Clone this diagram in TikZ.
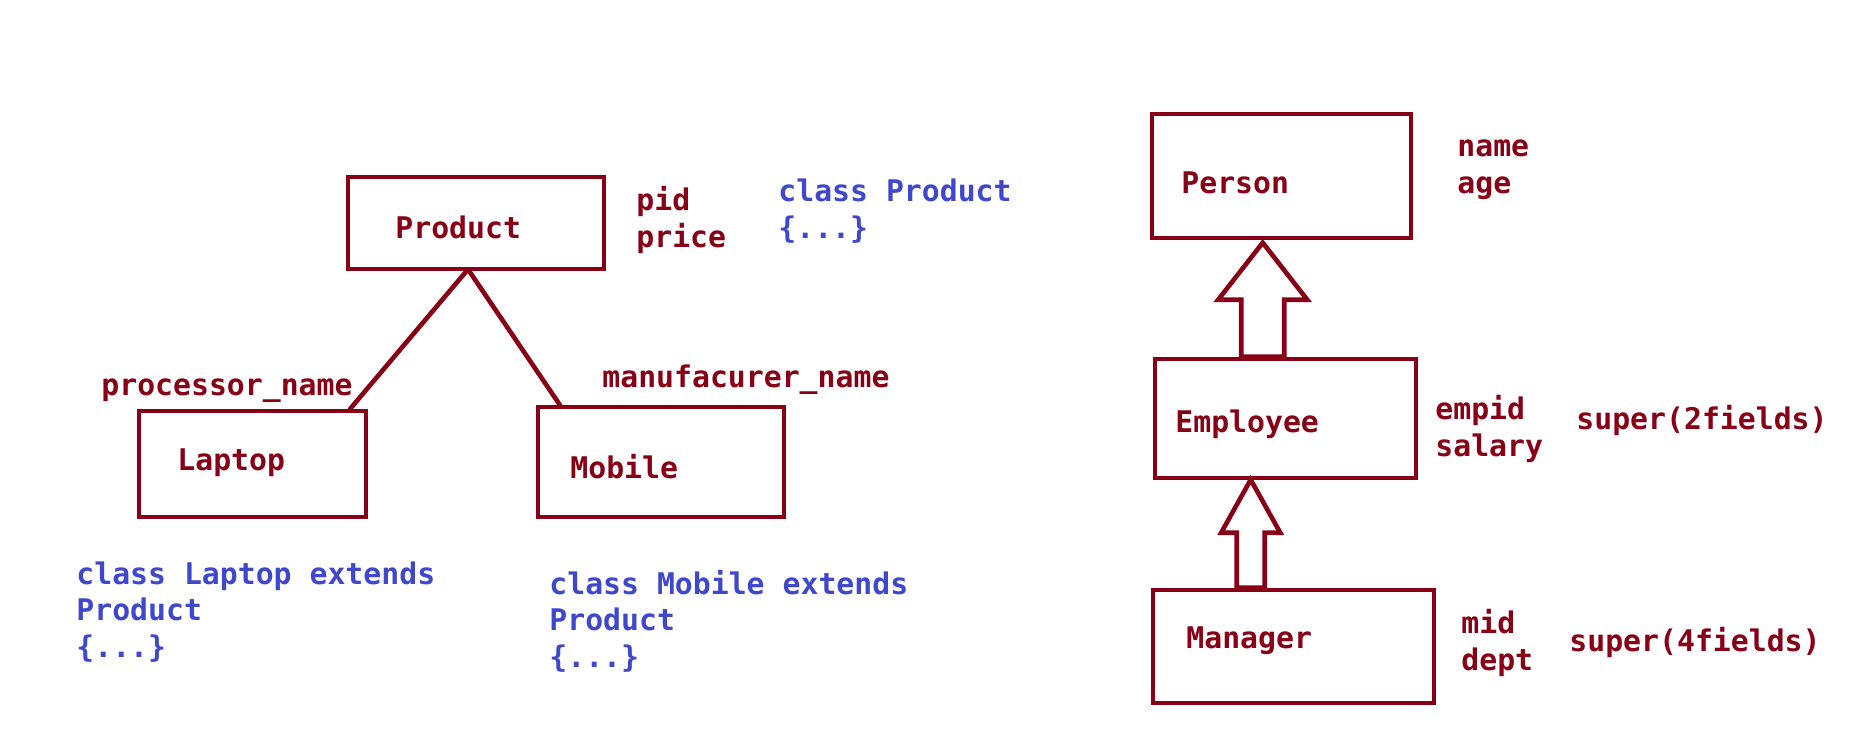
\documentclass[tikz,border=0pt]{standalone}
\usepackage{fontspec}
\setmonofont{DejaVu Sans Mono}
\usetikzlibrary{calc}
\definecolor{darkred}{RGB}{136,0,21}
\definecolor{indigo}{RGB}{63,72,204}
\tikzset{
	clsbox/.style={draw=darkred, line width=2.3pt, inner sep=0pt},
	clsname/.style={darkred, anchor=west, inner sep=0pt, font=\fontsize{14.9}{18.3}\selectfont\ttfamily\bfseries},
	fields/.style={clsname, align=left},
	code/.style={fields, text=indigo},
	link/.style={darkred, line width=2.3pt, line cap=round},
	fatarrow/.style={darkred, line width=2.3pt, line join=miter}
}
\begin{document}
\begin{tikzpicture}[x=0.5pt, y=-0.5pt]
					\useasboundingbox (0,0) rectangle (1850,743);
%					% Left part: Product and its subclasses
					\node[clsbox, minimum width=128pt, minimum height=46pt] (prod) at (476,223) {};
					\node[clsbox, minimum width=113.5pt, minimum height=53pt] (lap) at (252.5,464) {};
					\node[clsbox, minimum width=123pt, minimum height=55pt] (mob) at (661,462) {};
					\node[clsname] (prodname) at (395,227) {Product};
					\node[clsname] (lapname) at (177,463) {Laptop};
					\node[clsname] (mobname) at (570,467) {Mobile};
					\node[fields] (prodf) at (636,220) {pid\\price};
					\node[code] (prodcode) at (778,211) {class Product\\\{...\}};
					\node[fields] (lapf) at (101,391) {processor\_name};
					\node[fields] (mobf) at (602,380) {manufacurer\_name};
					\node[code] (lapcode) at (76,612) {class Laptop extends\\Product\\\{...\}};
					\node[code] (mobcode) at (549,621) {class Mobile extends\\Product\\\{...\}};
%					% Connectors
					\coordinate (apex) at ($(prod.south)+(-8,-2)$);
					\draw[link] (apex) -- ($(lap.north east)+(-18,0)$);
					\draw[link] (apex) -- ($(mob.north west)+(24,0)$);
%					% Right part: Person, Employee, Manager
					\node[clsbox, minimum width=129.5pt, minimum height=62pt] (pers) at (1281.5,176) {};
					\node[clsbox, minimum width=130.5pt, minimum height=59.5pt] (emp) at (1285.5,418.5) {};
					\node[clsbox, minimum width=140.5pt, minimum height=56.5pt] (mgr) at (1293.5,646.5) {};
					\node[clsname] (persname) at (1181,183) {Person};
					\node[clsname] (empname) at (1175,424) {Employee};
					\node[clsname] (mgrname) at (1186,641) {Manager};
					\node[fields] (persf) at (1457,170) {name\\age};
					\node[fields] (empf) at (1435,429) {empid\\salary};
					\node[fields] (mgrf) at (1461,643) {mid\\dept};
					\node[fields] (empsup) at (1576,420) {super(2fields)};
					\node[fields] (mgrsup) at (1569,642) {super(4fields)};
%					% Hollow arrows
					\coordinate (empbase) at ($(emp.north west)+(110,0)$);
					\draw[fatarrow] ($(empbase)+(-21.5,0)$) -- ++(0,-57) -- ++(-23,0) -- ++(44.5,-57) -- ++(44.5,57) -- ++(-23,0) -- ++(0,57) -- cycle;
					\coordinate (mgrbase) at ($(mgr.north west)+(100,0)$);
					\draw[fatarrow] ($(mgrbase)+(-14,0)$) -- ++(0,-55) -- ++(-15.5,0) -- ++(29.5,-53) -- ++(29.5,53) -- ++(-15.5,0) -- ++(0,55) -- cycle;
\end{tikzpicture}
\end{document}
